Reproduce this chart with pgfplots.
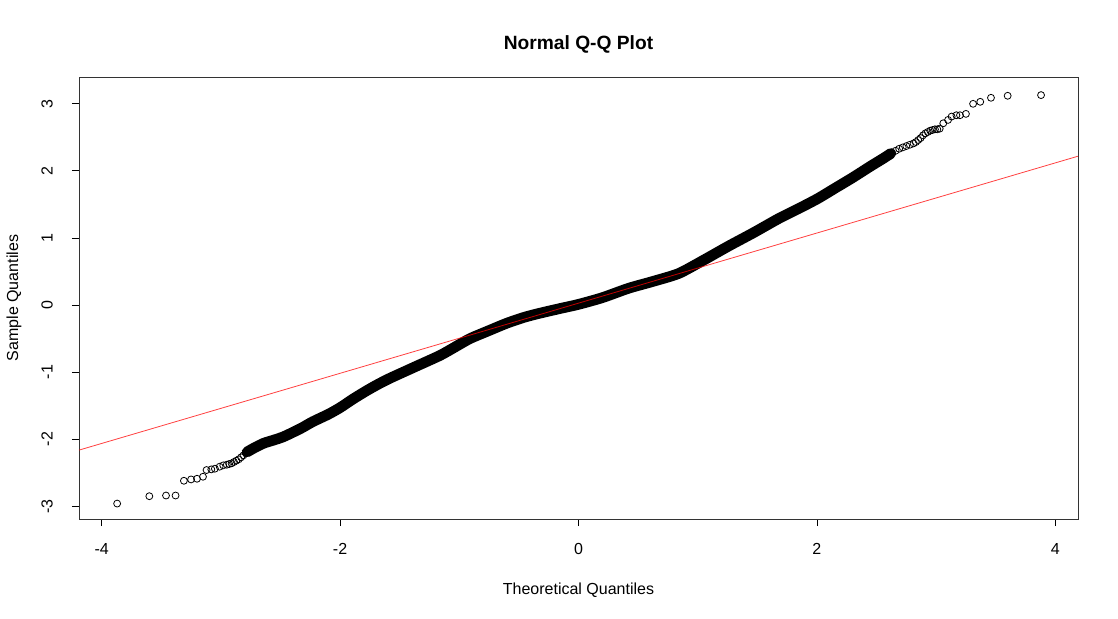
\documentclass[border=0pt]{standalone}
\usepackage{fontspec}
\setmainfont{Liberation Sans}
\usepackage{pgfplots}
\pgfplotsset{compat=1.18}
\begin{document}
\begin{tikzpicture}
\path[use as bounding box] (-59.25pt,-74.25pt) rectangle (779.25pt,389.25pt);
\begin{axis}[
  at={(0,0)}, anchor=south west,
  scale only axis, width=749.25pt, height=331.5pt,
  xmin=-4.19, xmax=4.19, ymin=-3.19, ymax=3.40,
  xtick={-4,-2,0,2,4}, xticklabels={-4,-2,0,2,4},
  ytick={-3,-2,-1,0,1,2,3}, yticklabels={-3,-2,-1,0,1,2,3},
  tick align=outside, xtick pos=left, ytick pos=left,
  major tick length=5.25pt,
  tick style={black, line width=0.6pt},
  axis line style={black!80, line width=0.6pt},
  ticklabel style={font=\fontsize{12}{14}\selectfont},
  xticklabel style={anchor=center, yshift=-17.5pt},
  yticklabel style={xshift=-18.75pt, rotate=90, anchor=center},
  title={Normal Q-Q Plot},
  title style={font=\bfseries\fontsize{14.4}{17}\selectfont, at={(axis description cs:0.5,1.0566)}, anchor=center},
  xlabel={Theoretical Quantiles},
  xlabel style={font=\fontsize{12}{14}\selectfont, at={(axis description cs:0.5,-0.1606)}, anchor=center},
  ylabel={Sample Quantiles},
  ylabel style={font=\fontsize{12}{14}\selectfont, at={(axis description cs:-0.06507,0.5)}, anchor=center, rotate=0},
  clip=true,
]
% dense band of overlapping points
\addplot[black, line width=8pt, line cap=round, line join=round, smooth, tension=0.4] table {
x y
-2.78 -2.19
-2.72 -2.13
-2.64 -2.06
-2.55 -2.01
-2.47 -1.96
-2.33 -1.84
-2.23 -1.74
-2.10 -1.63
-2.00 -1.53
-1.89 -1.40
-1.78 -1.28
-1.68 -1.18
-1.58 -1.09
-1.37 -0.92
-1.16 -0.75
-1.03 -0.62
-0.91 -0.50
-0.75 -0.38
-0.60 -0.27
-0.45 -0.18
-0.32 -0.12
-0.15 -0.05
0.00 0.01
0.20 0.11
0.42 0.25
0.62 0.35
0.84 0.47
1.05 0.67
1.26 0.88
1.47 1.08
1.68 1.29
1.86 1.45
2.01 1.59
2.15 1.74
2.30 1.90
2.45 2.07
2.56 2.19
2.62 2.26
};
% individual points in the tails
\addplot[only marks, mark=o, mark size=2.6pt, mark options={line width=0.6pt, black}] table {
x y
-3.87 -2.96
-3.60 -2.85
-3.46 -2.84
-3.38 -2.84
-3.31 -2.62
-3.25 -2.60
-3.20 -2.59
-3.15 -2.56
-3.12 -2.46
-3.08 -2.45
-3.05 -2.44
-3.01 -2.41
-2.98 -2.39
-2.95 -2.38
-2.93 -2.37
-2.91 -2.36
-2.89 -2.34
-2.87 -2.32
-2.85 -2.30
-2.83 -2.27
-2.81 -2.24
-2.79 -2.21
-2.77 -2.19
-2.75 -2.17
2.60 2.24
2.63 2.27
2.66 2.30
2.69 2.33
2.72 2.35
2.75 2.37
2.78 2.39
2.81 2.41
2.83 2.43
2.85 2.46
2.87 2.49
2.89 2.53
2.91 2.56
2.93 2.58
2.95 2.60
2.97 2.61
2.99 2.62
3.01 2.62
3.03 2.63
3.06 2.71
3.10 2.76
3.13 2.81
3.17 2.83
3.20 2.83
3.25 2.85
3.31 3.00
3.37 3.03
3.46 3.09
3.60 3.12
3.88 3.13
};
% reference line (qqline)
\addplot[red, opacity=0.75, line width=0.6pt] coordinates {(-4.19,-2.163) (4.19,2.219)};
\end{axis}
\end{tikzpicture}
\end{document}
